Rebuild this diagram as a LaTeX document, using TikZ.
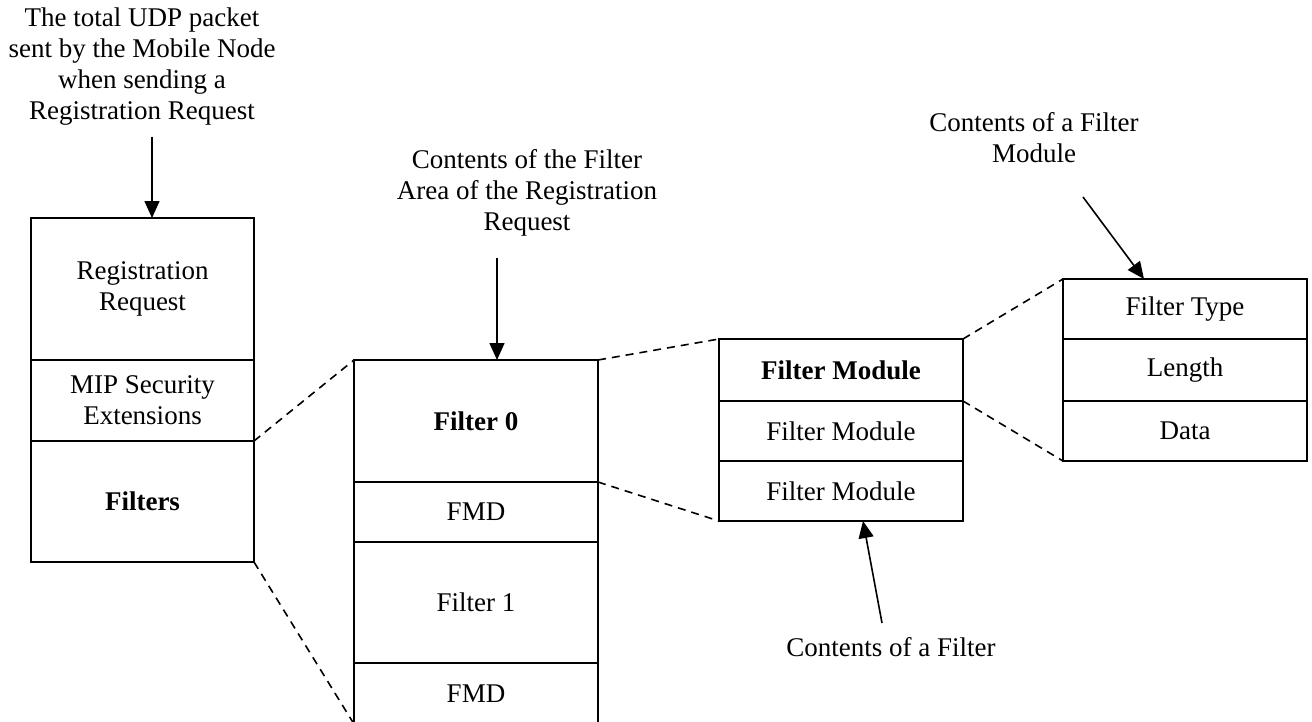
\documentclass[tikz,border=0pt]{standalone}
\usepackage{fontspec}
\setmainfont{Liberation Serif}
\usetikzlibrary{arrows.meta,positioning}
\tikzset{cell/.style={draw, line width=0.8pt, outer sep=0pt, inner sep=0pt,
    align=center, minimum width=122pt},
  lbl/.style={align=center, inner sep=0pt},
  link/.style={line width=0.8pt, dash pattern=on 4pt off 3pt},
  arr/.style={line width=0.8pt, -{Triangle[length=8.5pt,width=7.5pt]}}}

\begin{document}
\begin{tikzpicture}[x=0.5pt, y=-0.5pt, font=\fontsize{13.5}{15.5}\selectfont]
\useasboundingbox (0,0) rectangle (1312,722);
\node[cell, minimum width=111.5pt, minimum height=71pt] (reg) at (142.5,289)
  {Registration\\Request};
\node[cell, minimum width=111.5pt, minimum height=40.5pt, below=0pt of reg] (mip)
  {MIP Security\\Extensions};
\node[cell, minimum width=111.5pt, minimum height=60.5pt, below=0pt of mip] (filters)
  {\textbf{Filters}};
\node[cell, minimum height=61pt] (f0) at (476,421) {\textbf{Filter 0}};
\node[cell, minimum height=30pt, below=0pt of f0] (fmd0) {FMD};
\node[cell, minimum height=60.5pt, below=0pt of fmd0] (f1) {Filter 1};
\node[cell, minimum height=30.5pt, below=0pt of f1] (fmd1) {FMD};
\node[cell, minimum height=31pt] (fm0) at (841,370) {\textbf{Filter Module}};
\node[cell, minimum height=30pt, below=0pt of fm0] (fm1) {Filter Module};
\node[cell, minimum height=30pt, below=0pt of fm1] (fm2) {Filter Module};
\node[cell, minimum height=30pt] (ftype) at (1185,309) {Filter Type};
\node[cell, minimum height=31pt, below=0pt of ftype] (len) {Length};
\node[cell, minimum height=30pt, below=0pt of len] (data) {Data};
\node[lbl] (udp) at (142,67) {The total UDP packet\\sent by the Mobile Node\\
  when sending a\\Registration Request};
\node[lbl] (area) at (527,193) {Contents of the Filter\\Area of the Registration\\
  Request};
\node[lbl] (fmlbl) at (1034,138) {Contents of a Filter\\Module};
\node[lbl] (flbl) at (891,647) {Contents of a Filter};
\coordinate (udptail) at (152,137);
\draw[arr] (udptail) -- (udptail |- reg.north);
\coordinate (areatail) at (497,258);
\draw[arr] (areatail) -- (areatail |- f0.north);
\coordinate (fmtail) at (1083,197);
\draw[arr] (fmtail) -- ([xshift=40.5pt]ftype.north west);
\coordinate (ftail) at (882,623);
\draw[arr] (ftail) -- ([xshift=11pt]fm2.south);
\draw[link] (filters.north east) -- (f0.north west);
\draw[link] (filters.south east) -- (fmd1.south west);
\draw[link] (f0.north east) -- (fm0.north west);
\draw[link] (f0.south east) -- (fm2.south west);
\draw[link] (fm0.north east) -- (ftype.north west);
\draw[link] (fm0.south east) -- (data.south west);
\end{tikzpicture}
\end{document}
